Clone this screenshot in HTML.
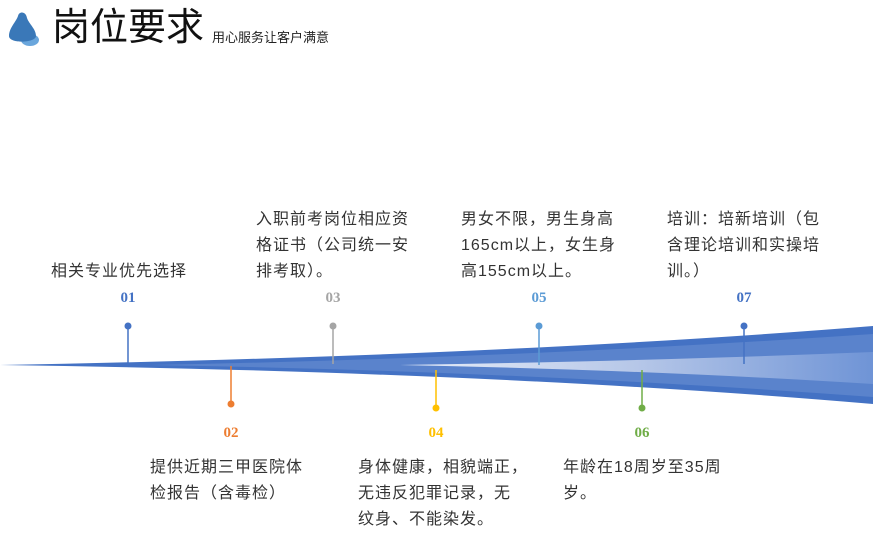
<!DOCTYPE html>
<html><head><meta charset="utf-8"><style>
body{margin:0;width:873px;height:532px;background:#fff;position:relative;overflow:hidden;font-family:"Liberation Sans","Noto Sans CJK SC",sans-serif;}
.t{position:absolute;font-size:16px;letter-spacing:1px;line-height:26px;color:#333;white-space:nowrap;}
.n{position:absolute;font-family:"Liberation Serif",serif;font-weight:bold;font-size:15px;width:40px;text-align:center;}
</style></head><body>
<svg width="873" height="532" style="position:absolute;left:0;top:0">
<defs>
<linearGradient id="g" x1="0" x2="1" y1="0" y2="0"><stop offset="0" stop-color="#e8eef9"/><stop offset="0.5" stop-color="#b6c7e8"/><stop offset="1" stop-color="#6f94d6"/></linearGradient>
</defs>
<ellipse cx="30" cy="40" rx="9" ry="6" fill="#6aa6dc"/>
<path d="M9,36 C9,28 16,22 18,16 C19,11 26,11 27,18 C29,24 36,29 36,36 C36,43 9,44 9,36Z" fill="#3a78b8"/>
<path d="M0,365 Q500,356 873,326 L873,404 Q500,372 0,365Z" fill="#4472c4"/>
<path d="M150,365 Q520,358 873,334 L873,397 Q520,371 150,365Z" fill="#5a83cc"/>
<path d="M400,365 Q650,361 873,352 L873,384 Q650,370 400,365Z" fill="url(#g)"/>
<g stroke-width="1.5">
<line x1="128" y1="326" x2="128" y2="364" stroke="#4472c4"/><circle cx="128" cy="326" r="3.5" fill="#4472c4"/>
<line x1="231" y1="366" x2="231" y2="404" stroke="#ed7d31"/><circle cx="231" cy="404" r="3.5" fill="#ed7d31"/>
<line x1="333" y1="326" x2="333" y2="364" stroke="#a5a5a5"/><circle cx="333" cy="326" r="3.5" fill="#a5a5a5"/>
<line x1="436" y1="370" x2="436" y2="408" stroke="#ffc000"/><circle cx="436" cy="408" r="3.5" fill="#ffc000"/>
<line x1="539" y1="326" x2="539" y2="365" stroke="#5b9bd5"/><circle cx="539" cy="326" r="3.5" fill="#5b9bd5"/>
<line x1="642" y1="370" x2="642" y2="408" stroke="#70ad47"/><circle cx="642" cy="408" r="3.5" fill="#70ad47"/>
<line x1="744" y1="326" x2="744" y2="364" stroke="#4472c4"/><circle cx="744" cy="326" r="3.5" fill="#4472c4"/>
</g>
</svg>
<div style="position:absolute;left:52px;top:6px;font-size:38px;line-height:44px;color:#111;">岗位要求</div>
<div style="position:absolute;left:212px;top:27px;font-size:13px;color:#222;">用心服务让客户满意</div>
<div class="n" style="left:108px;top:290px;color:#4472c4">01</div>
<div class="n" style="left:211px;top:425px;color:#ed7d31">02</div>
<div class="n" style="left:313px;top:290px;color:#a5a5a5">03</div>
<div class="n" style="left:416px;top:425px;color:#ffc000">04</div>
<div class="n" style="left:519px;top:290px;color:#5b9bd5">05</div>
<div class="n" style="left:622px;top:425px;color:#70ad47">06</div>
<div class="n" style="left:724px;top:290px;color:#4472c4">07</div>
<div class="t" style="left:51px;top:259px;">相关专业优先选择</div>
<div class="t" style="left:256px;top:207px;">入职前考岗位相应资<br>格证书（公司统一安<br>排考取）。</div>
<div class="t" style="left:461px;top:207px;">男女不限，男生身高<br>165cm以上，女生身<br>高155cm以上。</div>
<div class="t" style="left:667px;top:207px;">培训：培新培训（包<br>含理论培训和实操培<br>训。）</div>
<div class="t" style="left:150px;top:455px;">提供近期三甲医院体<br>检报告（含毒检）</div>
<div class="t" style="left:358px;top:455px;">身体健康，相貌端正，<br>无违反犯罪记录，无<br>纹身、不能染发。</div>
<div class="t" style="left:563px;top:455px;">年龄在18周岁至35周<br>岁。</div>
</body></html>
